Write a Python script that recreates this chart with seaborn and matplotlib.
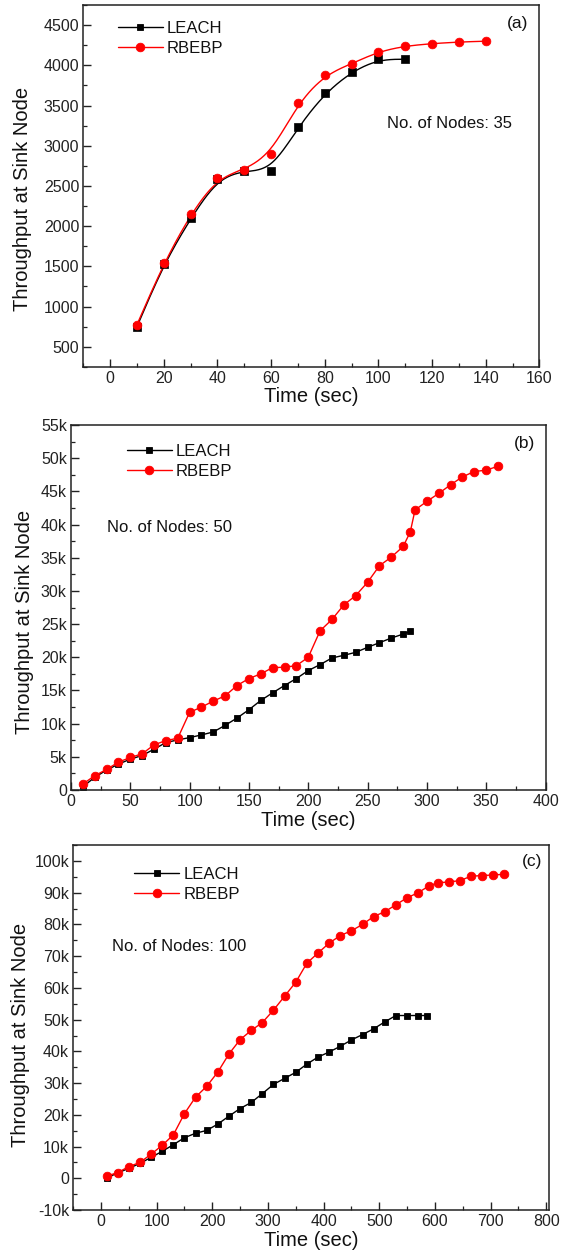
import numpy as np
import pandas as pd
import matplotlib
matplotlib.use("Agg")
import matplotlib.pyplot as plt
from matplotlib.lines import Line2D
from matplotlib.ticker import MultipleLocator, FuncFormatter
import seaborn as sns

# ---------------- data ----------------
# Panel (a): 35 nodes
a_leach_t = [10, 20, 30, 40, 50, 60, 70, 80, 90, 100, 110]
a_leach_y = [750, 1530, 2095, 2590, 2690, 2690, 3230, 3650, 3920, 4075, 4075]
a_rbebp_t = [10, 20, 30, 40, 50, 60, 70, 80, 90, 100, 110, 120, 130, 140]
a_rbebp_y = [775, 1540, 2150, 2600, 2700, 2900, 3530, 3880, 4020, 4170, 4240, 4270, 4290, 4300]

# Panel (b): 50 nodes
b_leach_t = [10, 20, 30, 40, 50, 60, 70, 80, 90, 100, 110, 120, 130, 140, 150, 160, 170, 180,
             190, 200, 210, 220, 230, 240, 250, 260, 270, 280, 286]
b_leach_y = [500, 1900, 3000, 3900, 4650, 5200, 6150, 7150, 7550, 7900, 8300, 8750, 9750, 10850,
             12100, 13500, 14650, 15750, 16800, 18000, 18900, 19900, 20300, 20750, 21500, 22200,
             22900, 23500, 23900]
b_rbebp_t = [10, 20, 30, 40, 50, 60, 70, 80, 90, 100, 110, 120, 130, 140, 150, 160, 170, 180,
             190, 200, 210, 220, 230, 240, 250, 260, 270, 280, 286, 290, 300, 310, 320, 330, 340,
             350, 360]
b_rbebp_y = [900, 2150, 3100, 4200, 4900, 5450, 6800, 7450, 7800, 11700, 12500, 13400, 14200,
             15750, 16800, 17500, 18450, 18500, 18750, 20000, 24000, 25700, 27900, 29300, 31300,
             33800, 35100, 36700, 38900, 42200, 43500, 44700, 46000, 47200, 48000, 48200, 48800]

# Panel (c): 100 nodes
c_leach_t = [10, 30, 50, 70, 90, 110, 130, 150, 170, 190, 210, 230, 250, 270, 290, 310, 330,
             350, 370, 390, 410, 430, 450, 470, 490, 510, 530, 550, 570, 585]
c_leach_y = [100, 1700, 3150, 4700, 6600, 8500, 10600, 12800, 14200, 15100, 17100, 19600, 22000,
             23900, 26700, 29600, 31500, 33400, 36000, 38200, 39800, 41600, 43600, 45300, 47100,
             49300, 51300, 51300, 51300, 51300]
c_rbebp_t = [10, 30, 50, 70, 90, 110, 130, 150, 170, 190, 210, 230, 250, 270, 290, 310, 330,
             350, 370, 390, 410, 430, 450, 470, 490, 510, 530, 550, 570, 590, 605, 625, 645, 665,
             685, 705, 725]
c_rbebp_y = [700, 1800, 3700, 5000, 7600, 10400, 13700, 20400, 25600, 29000, 33500, 39200, 43700,
             46600, 49100, 53000, 57400, 61800, 67800, 71000, 74100, 76500, 78000, 80000, 82500,
             84000, 86200, 88400, 90000, 92200, 93100, 93400, 93800, 95200, 95400, 95600, 95800]

series_names = ["LEACH", "RBEBP"]
node_labels = ["No. of Nodes: 35", "No. of Nodes: 50", "No. of Nodes: 100"]
panel_tags = ["(a)", "(b)", "(c)"]
xlabel = "Time (sec)"
ylabel = "Throughput at Sink Node"

# ---------------- style ----------------
sns.set_style("ticks")
plt.rcParams["font.family"] = ["Liberation Sans", "DejaVu Sans"]
plt.rcParams["axes.linewidth"] = 1.1
plt.rcParams["axes.edgecolor"] = "#222222"

BLACK = "#000000"
RED = "#ff0000"


def bspline(x, y, n=24):
    x = np.asarray(x, float)
    y = np.asarray(y, float)
    px = np.concatenate([[x[0]] * 2, x, [x[-1]] * 2])
    py = np.concatenate([[y[0]] * 2, y, [y[-1]] * 2])
    t = np.linspace(0, 1, n, endpoint=False)
    b0 = (1 - t) ** 3 / 6
    b1 = (3 * t ** 3 - 6 * t ** 2 + 4) / 6
    b2 = (-3 * t ** 3 + 3 * t ** 2 + 3 * t + 1) / 6
    b3 = t ** 3 / 6
    xs, ys = [], []
    for i in range(len(px) - 3):
        xs.append(b0 * px[i] + b1 * px[i + 1] + b2 * px[i + 2] + b3 * px[i + 3])
        ys.append(b0 * py[i] + b1 * py[i + 1] + b2 * py[i + 2] + b3 * py[i + 3])
    xs.append([x[-1]])
    ys.append([y[-1]])
    return np.concatenate(xs), np.concatenate(ys)


def kfmt(v, pos):
    if abs(v) < 1e-9:
        return "0"
    return f"{int(round(v / 1000))}k"


fig = plt.figure(figsize=(5.63, 12.52), dpi=100)
ax_a = fig.add_axes([0.148, 0.707, 0.810, 0.289])
ax_b = fig.add_axes([0.126, 0.369, 0.843, 0.2915])
ax_c = fig.add_axes([0.130, 0.0335, 0.845, 0.2915])

mk_sq = dict(marker="s", markersize=5.0, markeredgewidth=0.6)
mk_ci = dict(marker="o", markersize=6.2, markeredgewidth=0.6)

# ---- panel (a): smooth B-spline curves + markers
for t, y, col, mk in [(a_leach_t, a_leach_y, BLACK, "s"), (a_rbebp_t, a_rbebp_y, RED, "o")]:
    sx, sy = bspline(t, y)
    df = pd.DataFrame({"t": sx, "y": sy})
    sns.lineplot(data=df, x="t", y="y", ax=ax_a, color=col, lw=1.0, sort=False,
                 estimator=None, legend=False)
    dfp = pd.DataFrame({"t": t, "y": y})
    sns.scatterplot(data=dfp, x="t", y="y", ax=ax_a, color=col, marker=mk,
                    s=28 if mk == "s" else 40, edgecolor=col, linewidth=0.5, legend=False, zorder=3)

# ---- panels (b),(c): straight line + markers
for ax, lt, ly, rt, ry in [(ax_b, b_leach_t, b_leach_y, b_rbebp_t, b_rbebp_y),
                           (ax_c, c_leach_t, c_leach_y, c_rbebp_t, c_rbebp_y)]:
    sns.lineplot(x=lt, y=ly, ax=ax, color=BLACK, lw=1.0, estimator=None, sort=False,
                 markeredgecolor=BLACK, legend=False, **mk_sq)
    sns.lineplot(x=rt, y=ry, ax=ax, color=RED, lw=1.0, estimator=None, sort=False,
                 markeredgecolor=RED, legend=False, **mk_ci)

handles = [Line2D([], [], color=BLACK, lw=1.0, markeredgecolor=BLACK, **mk_sq),
           Line2D([], [], color=RED, lw=1.0, markeredgecolor=RED, **mk_ci)]

# axis limits & ticks
ax_a.set_xlim(-10, 160)
ax_a.set_ylim(250, 4750)
ax_a.xaxis.set_major_locator(MultipleLocator(20))
ax_a.xaxis.set_minor_locator(MultipleLocator(10))
ax_a.yaxis.set_major_locator(MultipleLocator(500))
ax_a.yaxis.set_minor_locator(MultipleLocator(250))

ax_b.set_xlim(0, 400)
ax_b.set_ylim(0, 55000)
ax_b.xaxis.set_major_locator(MultipleLocator(50))
ax_b.xaxis.set_minor_locator(MultipleLocator(25))
ax_b.yaxis.set_major_locator(MultipleLocator(5000))
ax_b.yaxis.set_minor_locator(MultipleLocator(2500))
ax_b.yaxis.set_major_formatter(FuncFormatter(kfmt))

ax_c.set_xlim(-50, 805)
ax_c.set_ylim(-10000, 105000)
ax_c.xaxis.set_major_locator(MultipleLocator(100))
ax_c.xaxis.set_minor_locator(MultipleLocator(50))
ax_c.yaxis.set_major_locator(MultipleLocator(10000))
ax_c.yaxis.set_minor_locator(MultipleLocator(5000))
ax_c.yaxis.set_major_formatter(FuncFormatter(kfmt))

# legend / text positions (axes fraction)
leg_pos = [(0.075, 0.955), (0.118, 0.948), (0.128, 0.94)]
node_pos = [(0.665, 0.672), (0.076, 0.72), (0.082, 0.723)]
tag_pos = [(0.953, 0.949), (0.956, 0.95), (0.965, 0.954)]
ylab_pos = [(-0.112, 0.465), (-0.078, 0.46), (-0.09, 0.48)]

for i, ax in enumerate([ax_a, ax_b, ax_c]):
    ax.tick_params(which="major", direction="in", length=5.5, width=1.0, labelsize=11.5,
                   top=False, right=False, colors="#222222", labelcolor="#222222", pad=3)
    ax.tick_params(which="minor", direction="in", length=3, width=0.9,
                   top=False, right=False, colors="#222222")
    for s in ax.spines.values():
        s.set_visible(True)
        s.set_color("#222222")
    ax.set_xlabel(xlabel, fontsize=14.5, labelpad=1, color="#111111")
    ax.set_ylabel(ylabel, fontsize=14.5, color="#111111")
    ax.yaxis.set_label_coords(*ylab_pos[i])
    leg = ax.legend(handles, series_names, loc="upper left", bbox_to_anchor=leg_pos[i],
                    frameon=False, fontsize=12, handlelength=2.7, handletextpad=0.25,
                    labelspacing=0.3, borderaxespad=0, borderpad=0)
    for txt in leg.get_texts():
        txt.set_color("#111111")
    ax.text(*node_pos[i], node_labels[i], transform=ax.transAxes, fontsize=12,
            va="center", ha="left", color="#111111")
    ax.text(*tag_pos[i], panel_tags[i], transform=ax.transAxes, fontsize=12.5,
            va="center", ha="center", color="#111111")

fig.savefig("out.png", dpi=100, facecolor="white")
